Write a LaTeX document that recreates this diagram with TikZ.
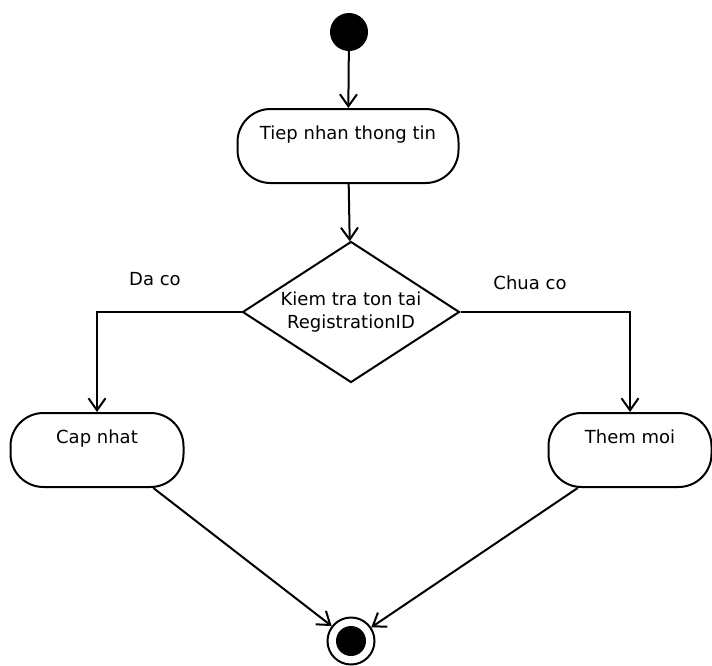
\documentclass[tikz,border=0pt]{standalone}
\usepackage{fontspec}
\setmainfont{DejaVu Sans}
\usetikzlibrary{shapes.geometric,arrows.meta}

\begin{document}
\begin{tikzpicture}[x=1pt,y=-1pt]
    % Truc y dao nguoc (y=-1pt), toa do tinh tu tren xuong;
    % yshift cua nhan van theo chieu goc nen dung gia tri am de ha xuong.
    \tikzset{
      nhan/.style={font=\fontsize{18}{23}\selectfont,inner sep=0pt},
      hoatdong/.style={draw,line width=2pt,rounded corners=33pt,
        minimum height=74pt,inner sep=0pt},
      tenhd/.style={nhan,anchor=north,yshift=-18pt},
      luong/.style={line width=2pt,
        -{Straight Barb[length=12pt,width=17pt,line width=2pt]}}}
    \useasboundingbox (0,0) rectangle (712,665);
    % Diem bat dau va cac hoat dong
    \node[circle,fill,minimum size=38pt,inner sep=0pt] (batdau) at (349,32) {};
    \node[hoatdong,minimum width=221pt,
      label={[tenhd]north:Tiep nhan thong tin}] (tiepnhan) at (348,146) {};
    \node[draw,diamond,aspect=1.55,line width=2pt,minimum width=217pt,
      minimum height=141pt,inner sep=0pt,align=center,nhan] (kiemtra) at (351,312)
      {Kiem tra ton tai\\RegistrationID};
    \node[hoatdong,minimum width=173pt,
      label={[tenhd]north:Cap nhat}] (capnhat) at (97,450) {};
    \node[hoatdong,minimum width=163pt,
      label={[tenhd]north:Them moi}] (themmoi) at (630,450) {};
    % Diem ket thuc
    \node[circle,draw,line width=2pt,minimum size=47pt,inner sep=0pt] (ketthuc) at (351,641) {};
    \fill (ketthuc) circle (15pt);
    % Cac luong
    \draw[luong] (batdau) -- (tiepnhan);
    \draw[luong] (tiepnhan) -- (kiemtra);
    \draw[luong] (kiemtra.west) -| (capnhat.north);
    \draw[luong] (kiemtra.east) -| (themmoi.north);
    \draw[luong] (capnhat.-34) -- (ketthuc);
    \draw[luong] (themmoi.-144) -- (ketthuc);
    % Dieu kien re nhanh
    \node[nhan] (daco) at (155,279) {Da co};
    \node[nhan] (chuaco) at (530,283) {Chua co};
\end{tikzpicture}
\end{document}
